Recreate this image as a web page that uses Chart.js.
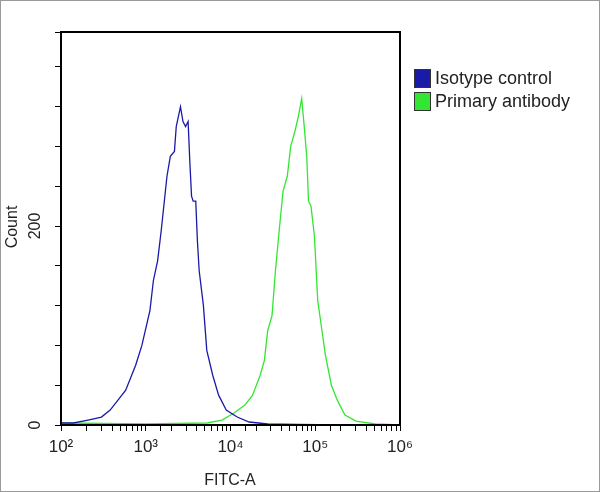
<!DOCTYPE html>
<html><head><meta charset="utf-8">
<script src="https://cdn.jsdelivr.net/npm/chart.js@4/dist/chart.umd.min.js"></script>
<style>html,body{margin:0;padding:0;background:#fff}canvas{display:block}</style>
</head><body>
<div style="width:600px;height:492px"><canvas id="c"></canvas></div>
<script>
// values (FITC-A, count)
const isoX = [100, 100, 104, 140, 209, 300, 380, 470, 580, 760, 900, 1120, 1230, 1380, 1520, 1780, 1950, 2180, 2290, 2570, 2750, 2950, 3160, 3310, 3470, 3630, 3890, 4070, 4270, 4790, 5250, 6170, 7240, 8910, 12000, 16600, 27500, 60000, 200000, 1000000];
const isoY = [40, 3, 2, 2, 5, 8, 15, 25, 35, 60, 80, 115, 145, 165, 195, 250, 270, 275, 300, 320, 305, 300, 305, 265, 230, 225, 225, 185, 155, 120, 75, 50, 30, 15, 8, 3, 1, 0.5, 0, 0];
const priX = [100, 1000, 5250, 7940, 11000, 14800, 18200, 22400, 25100, 27500, 30900, 33900, 38000, 41700, 46800, 51300, 57500, 63100, 69200, 74100, 79400, 83200, 89100, 97700, 107000, 120000, 132000, 155000, 182000, 224000, 302000, 513000, 1000000];
const priY = [2, 1, 2, 5, 12, 20, 30, 50, 65, 95, 110, 155, 200, 235, 250, 280, 295, 310, 328, 300, 270, 225, 220, 190, 125, 95, 70, 40, 25, 10, 4, 1, 0];
const seriesNames = ['Isotype control', 'Primary antibody'];
const seriesColors = ['#1a1aa8', '#33e633'];
const yLabels = [0, 200];

const FONT = "'Liberation Sans Narrow', 'Liberation Sans', Arial, sans-serif";
const sup = {2: '²', 3: '³', 4: '⁴', 5: '⁵', 6: '⁶'};
const pts = (xs, ys) => xs.map((x, i) => ({x, y: ys[i]}));

const decor = {
  id: 'decor',
  afterDraw(chart) {
    const {ctx, chartArea: a, scales} = chart;
    ctx.save();
    ctx.strokeStyle = '#999'; ctx.lineWidth = 1;
    ctx.strokeRect(0.5, 0.5, 599, 491);
    ctx.strokeStyle = '#000'; ctx.lineWidth = 2;
    ctx.strokeRect(a.left, a.top, a.right - a.left, a.bottom - a.top);
    ctx.fillStyle = '#222';
    ctx.font = '16px ' + FONT;
    ctx.textAlign = 'center'; ctx.textBaseline = 'middle';
    yLabels.forEach(v => {
      ctx.save();
      ctx.translate(36, scales.y.getPixelForValue(v));
      ctx.rotate(-Math.PI / 2);
      ctx.fillText(String(v), 0, 0);
      ctx.restore();
    });
    ctx.save();
    ctx.translate(13, 227); ctx.rotate(-Math.PI / 2);
    ctx.fillText('Count', 0, 0);
    ctx.restore();
    ctx.fillText('FITC-A', 230, 481);
    ctx.textAlign = 'left';
    ctx.font = '18px ' + FONT;
    seriesNames.forEach((n, i) => {
      const y = 69 + i * 23;
      ctx.fillStyle = seriesColors[i];
      ctx.fillRect(414, y, 16, 18);
      ctx.strokeStyle = '#333'; ctx.lineWidth = 1;
      ctx.strokeRect(414.5, y + 0.5, 16, 18);
      ctx.fillStyle = '#222';
      ctx.fillText(n, 435, y + 10);
    });
    ctx.restore();
  }
};

new Chart(document.getElementById('c'), {
  type: 'scatter',
  data: {
    datasets: [
      {label: seriesNames[0], data: pts(isoX, isoY), showLine: true, borderColor: seriesColors[0], borderWidth: 1.3, pointRadius: 0, tension: 0},
      {label: seriesNames[1], data: pts(priX, priY), showLine: true, borderColor: seriesColors[1], borderWidth: 1.3, pointRadius: 0, tension: 0}
    ]
  },
  options: {
    responsive: true, maintainAspectRatio: false, animation: false,
    layout: {padding: {top: 32, right: 200, left: 0, bottom: 0}},
    plugins: {legend: {display: false}, tooltip: {enabled: false}},
    scales: {
      x: {
        type: 'logarithmic', min: 100, max: 1000000,
        afterFit: s => { s.height = 67; },
        grid: {drawOnChartArea: false, drawTicks: true, tickLength: 6, color: '#000'},
        border: {color: '#000', width: 2},
        ticks: {
          autoSkip: false, maxRotation: 0, color: '#222', padding: 6,
          font: {family: FONT, size: 17},
          callback: v => { const e = Math.log10(v); return Math.abs(e - Math.round(e)) < 1e-9 ? '10' + sup[Math.round(e)] : ''; }
        }
      },
      y: {
        min: 0, max: 395,
        afterFit: s => { s.width = 61; },
        grid: {drawOnChartArea: false, drawTicks: true, tickLength: 6, color: '#000'},
        border: {color: '#000', width: 2},
        ticks: {stepSize: 40, callback: () => ''}
      }
    }
  },
  plugins: [decor]
});
</script>
</body></html>
